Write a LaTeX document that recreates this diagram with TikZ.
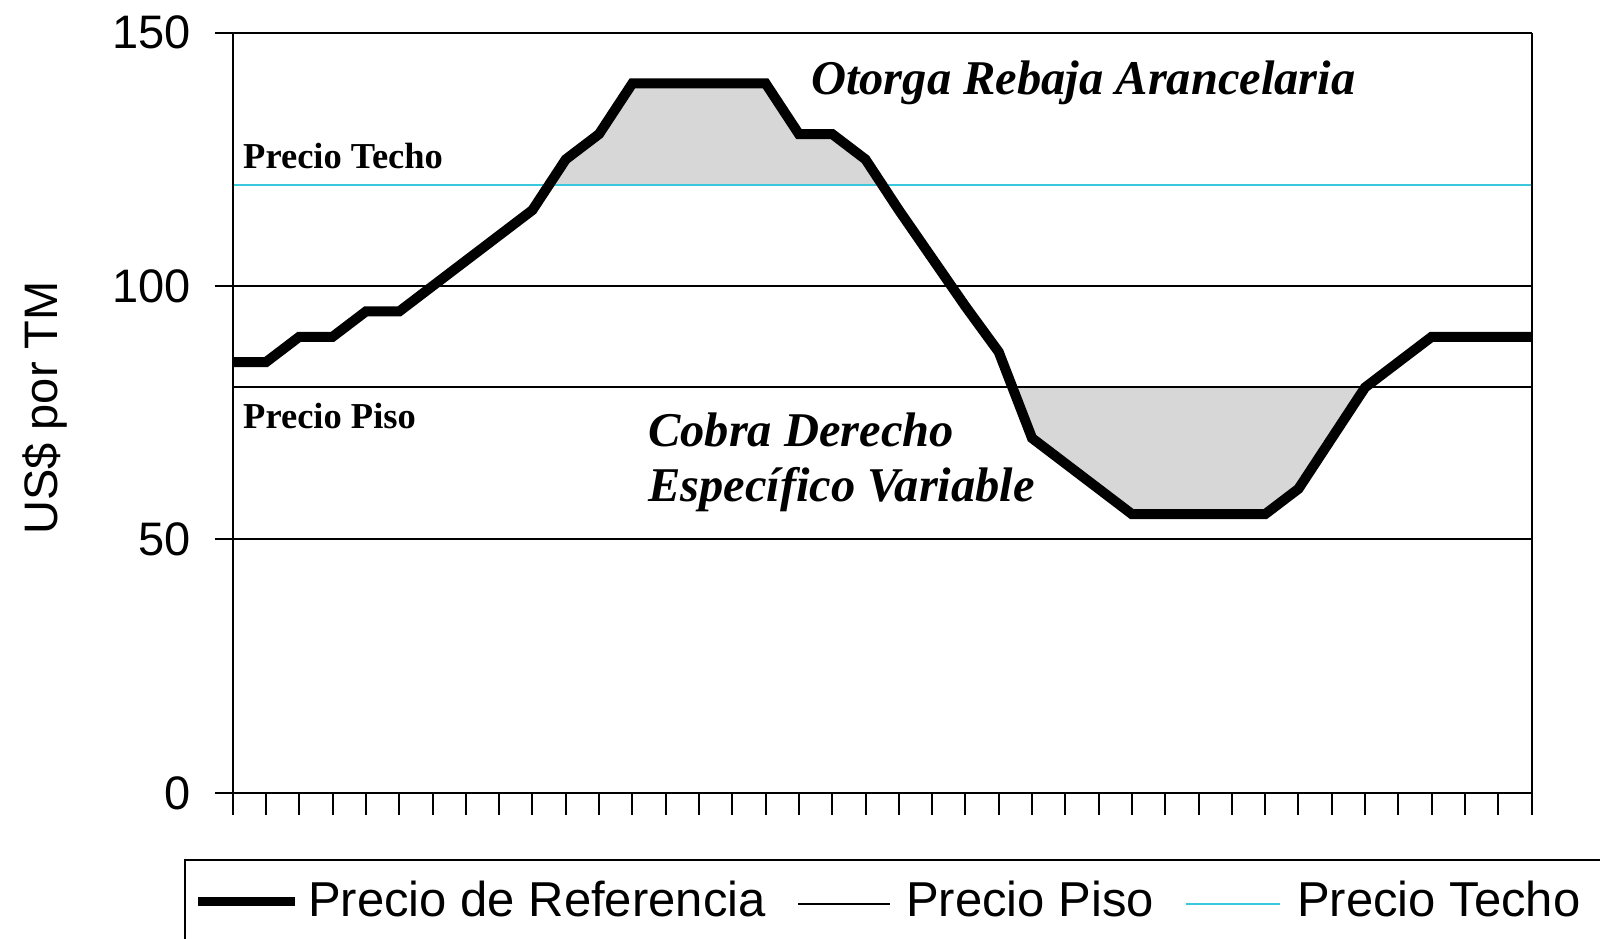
\documentclass[tikz,border=0pt]{standalone}
\usepackage{fontspec}
\setmainfont{Liberation Serif}
\newfontfamily\arialf{Liberation Sans}
\definecolor{techo}{RGB}{60,200,220}
\definecolor{relleno}{RGB}{215,215,215}
\begin{document}
\begin{tikzpicture}[x=1pt,y=1pt,
  grid/.style={line width=2pt,black},
  refline/.style={line width=10pt,line join=miter,black},
  ceilline/.style={line width=2pt,techo},
  ticklab/.style={font=\arialf\fontsize{47}{50}\selectfont,anchor=east,inner sep=0pt},
  leg/.style={font=\arialf\fontsize{49}{52}\selectfont,anchor=base west,inner sep=0pt},
  annot/.style={font=\bfseries\itshape\fontsize{48.5}{52}\selectfont,anchor=base west,inner sep=0pt},
  lbl/.style={font=\bfseries\fontsize{36.5}{40}\selectfont,anchor=base west,inner sep=0pt}]
\useasboundingbox (0,0) rectangle (1600,939);
\fill[white] (0,0) rectangle (1600,939);
\begin{scope}[shift={(232.7,146.1)},x=33.305pt,y=5.068pt]
  % shaded regions
  \fill[relleno] (9.5,120) -- (10,125) -- (11,130) -- (12,140) -- (16,140) -- (17,130) -- (18,130) -- (19,125) -- (19.5,120) -- cycle;
  \fill[relleno] (23.41,80) -- (24,70) -- (25,65) -- (26,60) -- (27,55) -- (31,55) -- (32,60) -- (33,70) -- (34,80) -- cycle;
  % grid lines
  \foreach \v in {0,50,100,150} \draw[grid] (-0.53,\v) -- (39,\v);
  \draw[grid] (0,80) -- (39,80);
  \draw[ceilline] (0,120) -- (39,120);
  \draw[grid] (0,0) -- (0,150);
  \draw[grid] (39,0) -- (39,150);
  \foreach \k in {0,...,39} \draw[grid] (\k,0) -- (\k,-4.34);
  % reference price
  \draw[refline] (0,85) -- (1,85) -- (2,90) -- (3,90) -- (4,95) -- (5,95) -- (6,100) -- (7,105) -- (8,110) -- (9,115)
    -- (10,125) -- (11,130) -- (12,140) -- (16,140) -- (17,130) -- (18,130) -- (19,125) -- (20,115) -- (21,105.5)
    -- (22,96) -- (23,87) -- (24,70) -- (25,65) -- (26,60) -- (27,55) -- (31,55) -- (32,60) -- (33,70) -- (34,80)
    -- (35,85) -- (36,90) -- (39,90);
  % tick labels
  \node[ticklab] (t150) at (-1.25,150) {150};
  \node[ticklab] (t100) at (-1.25,100) {100};
  \node[ticklab] (t50) at (-1.25,50) {50};
  \node[ticklab] (t0) at (-1.25,0) {0};
\end{scope}
% y axis title
\node[rotate=90,anchor=base,inner sep=0pt,font=\arialf\fontsize{47}{50}\selectfont] (ytitle) at (57,531) {US\$ por TM};
% in-plot labels
\node[lbl] (ltecho) at (243,770.6) {Precio Techo};
\node[lbl] (lpiso) at (243,510.4) {Precio Piso};
\node[annot] (otorga) at (811,844) {Otorga Rebaja Arancelaria};
\node[annot] (cobra) at (648,492) {Cobra Derecho};
\node[annot] (especif) at (648,437) {Específico Variable};
% legend
\draw[line width=2pt] (1605,79) -- (185,79) -- (185,-5);
\coordinate (l1a) at (198,37); \coordinate (l1b) at (295,37);
\draw[line width=9pt] (l1a) -- (l1b);
\node[leg] (leg1) at (308,22) {Precio de Referencia};
\coordinate (l2a) at (798,35); \coordinate (l2b) at (890,35);
\draw[line width=1.5pt] (l2a) -- (l2b);
\node[leg] (leg2) at (906,22) {Precio Piso};
\coordinate (l3a) at (1186,35); \coordinate (l3b) at (1280,35);
\draw[line width=1.5pt,techo] (l3a) -- (l3b);
\node[leg] (leg3) at (1297,22) {Precio Techo};
\end{tikzpicture}
\end{document}
